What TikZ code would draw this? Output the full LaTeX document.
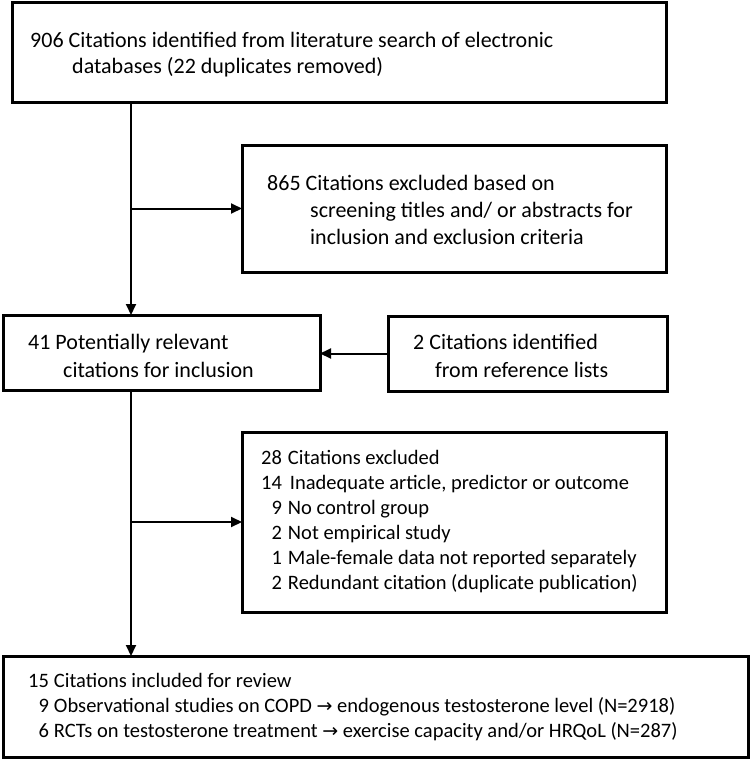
\documentclass[tikz,border=0pt]{standalone}
\usepackage{fontspec}
\setmainfont{Carlito}
\newfontfamily\arrfont{DejaVu Sans}
\usetikzlibrary{arrows.meta}
\newcommand{\rarr}{{\arrfont\fontsize{19}{25}\selectfont →}}
\begin{document}
\begin{tikzpicture}[x=1pt,y=-1pt,
  box/.style={draw,line width=3pt,anchor=north west,outer sep=0pt,inner sep=0pt},
  txt/.style={anchor=west,inner sep=0pt,align=left},
  conn/.style={line width=2pt},
  arr/.style={line width=2pt,-{Triangle[length=11pt,width=10pt]}}]
\useasboundingbox (0,0) rectangle (750,760);
% boxes
\node[box,minimum width=654pt,minimum height=99pt] (b1) at (12,3) {};
\node[box,minimum width=424pt,minimum height=127pt] (b2) at (242,145) {};
\node[box,minimum width=317pt,minimum height=75pt] (b3) at (3,315) {};
\node[box,minimum width=279pt,minimum height=75pt] (b4) at (388,316) {};
\node[box,minimum width=424pt,minimum height=180pt] (b5) at (242,432) {};
\node[box,minimum width=745pt,minimum height=101pt] (b6) at (3,656) {};
% texts
\node[txt,font=\fontsize{22}{26}\selectfont] (t1) at (30,55)
  {906 Citations identified from literature search of electronic\\\hspace*{42pt}databases (22 duplicates removed)};
\node[txt,font=\fontsize{22}{27}\selectfont] (t2) at (267,210)
  {865 Citations excluded based on\\\hspace*{43pt}screening titles and/ or abstracts for\\\hspace*{43pt}inclusion and exclusion criteria};
\node[txt,font=\fontsize{22}{28}\selectfont] (t3) at (28,356)
  {41 Potentially relevant\\\hspace*{35pt}citations for inclusion};
\node[txt,font=\fontsize{22}{28}\selectfont] (t4) at (413,356)
  {2 Citations identified\\\hspace*{22pt}from reference lists};
\node[txt,font=\fontsize{20.5}{25}\selectfont] (t5) at (261,522)
  {\begin{tabular}{@{}r@{\hspace{6pt}}l@{}}
  28 & Citations excluded\\
  14 & \hspace*{2pt}Inadequate article, predictor or outcome\\
  9 & No control group\\
  2 & Not empirical study\\
  1 & Male-female data not reported separately\\
  2 & Redundant citation (duplicate publication)
  \end{tabular}};
\node[txt,font=\fontsize{20.5}{25}\selectfont] (t6) at (28,707)
  {\begin{tabular}{@{}r@{\hspace{5pt}}l@{}}
  15 & Citations included for review\\
  9 & Observational studies on COPD \rarr{} endogenous testosterone level (N=2918)\\
  6 & RCTs on testosterone treatment \rarr{} exercise capacity and/or HRQoL (N=287)
  \end{tabular}};
% connectors
\coordinate (sx) at (131,0);
\draw[arr] (b1.south -| sx) -- (b3.north -| sx);
\draw[arr] (b2.west -| sx) -- (b2.west);
\draw[arr] (b4.west) -- (b3.east |- b4.west);
\draw[arr] (b3.south -| sx) -- (b6.north -| sx);
\draw[arr] (b5.west -| sx) -- (b5.west);
\end{tikzpicture}
\end{document}
